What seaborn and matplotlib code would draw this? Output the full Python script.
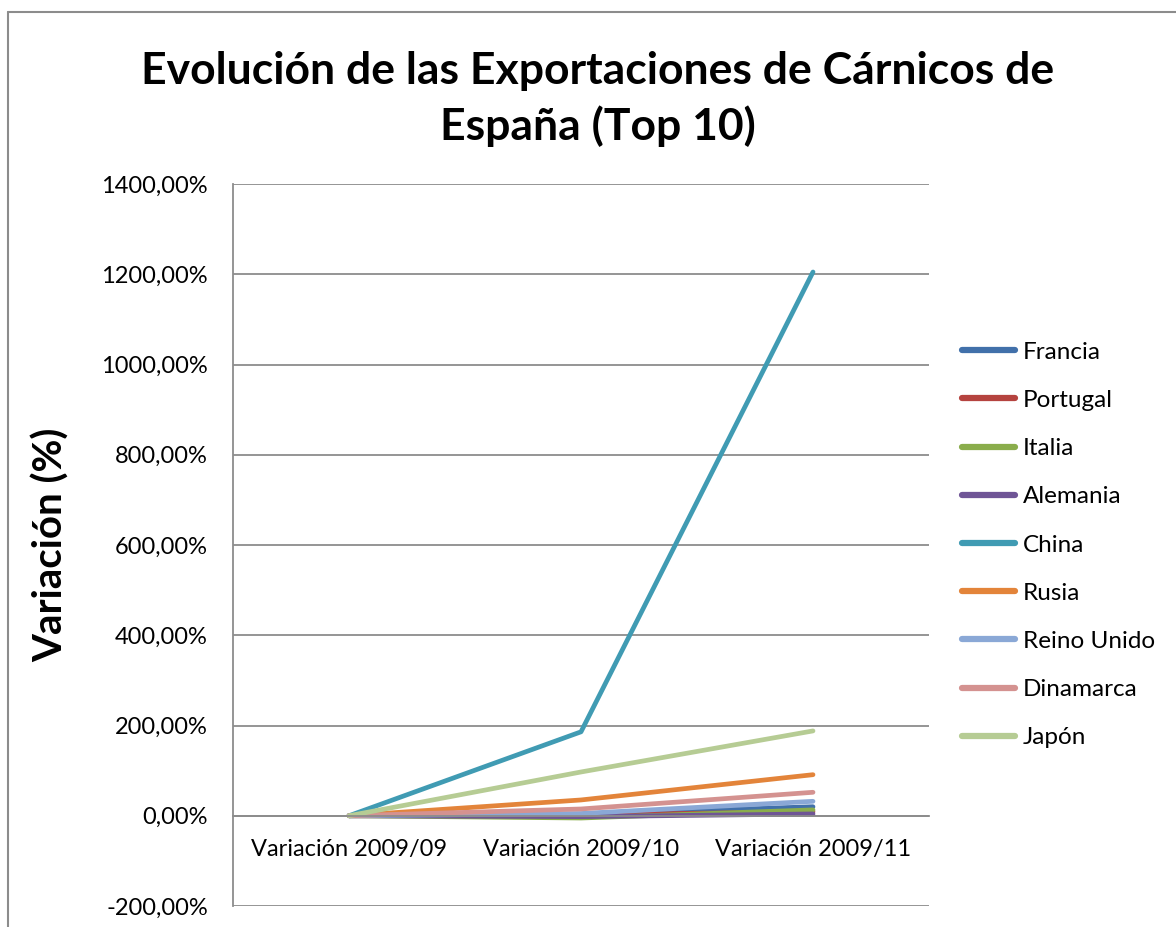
import pandas as pd
import numpy as np
import seaborn as sns
import matplotlib.pyplot as plt
from matplotlib.ticker import FuncFormatter

categorias = ['Variación 2009/09', 'Variación 2009/10', 'Variación 2009/11']
paises = ['Francia', 'Portugal', 'Italia', 'Alemania', 'China',
          'Rusia', 'Reino Unido', 'Dinamarca', 'Japón']

# variación en %
francia = [0, 3, 20]
portugal = [0, 2, 9]
italia = [0, -5, 13]
alemania = [0, -2, 4]
china = [0, 186, 1205]
rusia = [0, 35, 91]
reino_unido = [0, 5, 32]
dinamarca = [0, 15, 52]
japon = [0, 97, 188]

colores = ['#4170AA', '#B5433F', '#8AAD4C', '#6F5596', '#409BB3',
           '#E3843A', '#8AA8D6', '#D49290', '#B6CC94']

valores = [francia, portugal, italia, alemania, china,
           rusia, reino_unido, dinamarca, japon]
filas = []
for pais, serie in zip(paises, valores):
    for i, v in enumerate(serie):
        filas.append({'Pais': pais, 'x': i, 'Variacion': v})
df = pd.DataFrame(filas)

sns.set_style('white')
plt.rcParams['font.family'] = ['Lato', 'DejaVu Sans']
plt.rcParams['text.color'] = 'black'
plt.rcParams['axes.labelcolor'] = 'black'

fig = plt.figure(figsize=(11.76, 9.27), dpi=100)
W, H = 1176, 927
ax = fig.add_axes([233 / W, 1 - 906 / H, (929 - 233) / W, (906 - 184) / H])

sns.lineplot(data=df, x='x', y='Variacion', hue='Pais', hue_order=paises,
             palette=dict(zip(paises, colores)), linewidth=3.4, ax=ax,
             solid_capstyle='round', sort=False)

ax.set_xlim(-0.5, 2.5)
ax.set_ylim(-200, 1400)
ax.set_yticks(np.arange(-200, 1401, 200))
ax.yaxis.set_major_formatter(FuncFormatter(lambda v, p: f'{v:.2f}%'.replace('.', ',')))
ax.set_xticks(range(3))
ax.set_xticklabels(categorias)
ax.tick_params(axis='both', length=0, labelsize=17, colors='black')
ax.tick_params(axis='x', pad=17)
ax.tick_params(axis='y', pad=18)

ax.grid(axis='y', color='#8C8C8C', linewidth=1.3)
ax.set_axisbelow(True)
for s in ['top', 'right']:
    ax.spines[s].set_visible(False)
ax.spines['left'].set_color('#8C8C8C')
ax.spines['left'].set_linewidth(1.3)
ax.spines['bottom'].set_position(('data', 0))
ax.spines['bottom'].set_color('#8C8C8C')
ax.spines['bottom'].set_linewidth(1.3)

ax.set_xlabel('')
ax.set_ylabel('Variación (%)', fontsize=29, fontweight='bold', color='black')
ax.yaxis.set_label_coords((70 - 233) / 696, 0.5)

fig.text(598 / W, 1 - 71 / H, 'Evolución de las Exportaciones de Cárnicos de',
         ha='center', va='center', fontsize=32, fontweight='bold')
fig.text(598 / W, 1 - 126 / H, 'España (Top 10)',
         ha='center', va='center', fontsize=32, fontweight='bold')

leg = ax.legend(loc='center left', bbox_to_anchor=(962 / W, 1 - 545 / H),
                bbox_transform=fig.transFigure, frameon=False, fontsize=17.5,
                handlelength=2.2, handletextpad=0.3, labelspacing=1.12,
                borderaxespad=0, borderpad=0)
for l in leg.get_lines():
    l.set_linewidth(4.5)

# borde del área del gráfico
fig.add_artist(plt.Line2D([8 / W, 8 / W], [0, 1 - 12 / H], color='#8C8C8C',
                          linewidth=1.5, transform=fig.transFigure))
fig.add_artist(plt.Line2D([8 / W, 1], [1 - 12 / H, 1 - 12 / H], color='#8C8C8C',
                          linewidth=1.5, transform=fig.transFigure))

fig.savefig('out.png', dpi=100)
